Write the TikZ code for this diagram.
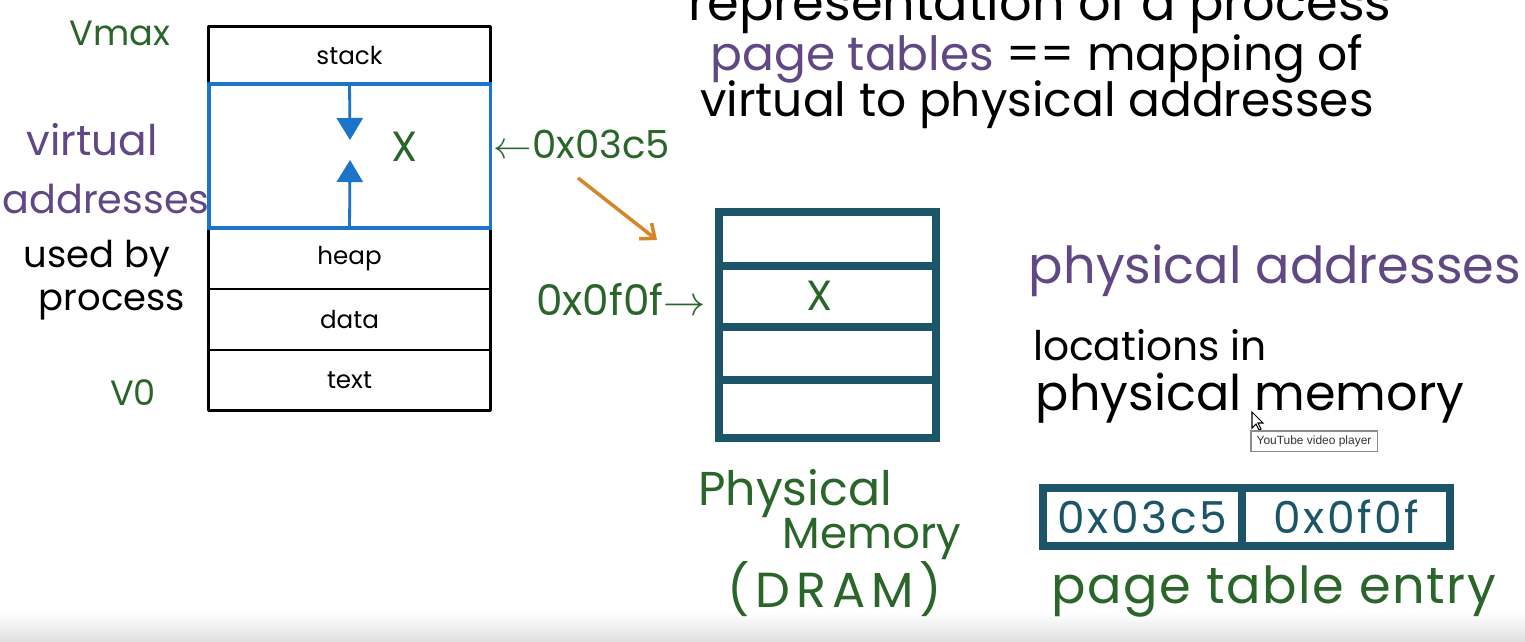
\documentclass[tikz,border=0pt]{standalone}
\usepackage{fontspec}
\setmainfont{Poppins}
\newfontfamily\tipfont{Liberation Sans}
\usetikzlibrary{arrows.meta, positioning, calc}
\definecolor{inkgreen}{RGB}{42,102,42}
\definecolor{inkpurple}{RGB}{96,72,132}
\definecolor{inkorange}{RGB}{214,134,40}
\definecolor{frameteal}{RGB}{28,84,104}
\definecolor{regionblue}{RGB}{28,116,200}
\newcommand{\handsize}[1]{\fontsize{#1}{#1}\selectfont}
\tikzset{
  hand/.style={font=\handsize{13}, inner sep=0pt, anchor=base},
  segment/.style={rectangle, draw=black, line width=0.4pt, minimum width=2.81cm, inner sep=0pt, font=\fontsize{7}{8}\selectfont},
  frame/.style={rectangle, draw=frameteal, line width=2.3pt, inner sep=0pt},
  frameline/.style={draw=frameteal, line width=2.3pt, line cap=butt},
  ptecell/.style={rectangle, draw=frameteal, line width=1.2pt, minimum height=0.55cm, inner sep=0pt, text=frameteal, font=\handsize{12.5}\addfontfeature{LetterSpace=6}},
  growarrow/.style={draw=regionblue, line width=0.8pt, -{Triangle[width=0.26cm, length=0.22cm]}},
  maparrow/.style={draw=inkorange, line width=1pt, -{Straight Barb[width=0.2cm, length=0.12cm]}},
  tooltip/.style={rectangle, draw=black!45, fill=white, line width=0.3pt, minimum width=1.26cm, minimum height=0.2cm, inner sep=0pt, font=\tipfont\fontsize{3.4}{4}\selectfont, text=black!80},
}
\begin{document}
\begin{tikzpicture}[x=0.01cm, y=-0.01cm]
\clip (0,0) rectangle (1525,641);
\fill[white] (0,0) rectangle (1525,641);
\shade[top color=white, bottom color=black!12] (0,612) rectangle (1525,641);

\node[hand, font=\handsize{14.5}] (rep) at (1040,20) {representation of a process};
\node[hand, font=\handsize{13.4}] (ptdef) at (1037,70) {\textcolor{inkpurple}{page tables} == mapping of};
\node[hand, font=\handsize{13.4}] (ptdef2) at (1037,116) {virtual to physical addresses};

\node[segment, minimum height=0.57cm] (stack) at (349.5,55.5) {stack};
\node[segment, minimum height=0.61cm] (heap) at (349.5,258.5) {heap};
\node[segment, minimum height=0.61cm] (data) at (349.5,319.5) {data};
\node[segment, minimum height=0.60cm] (text) at (349.5,380) {text};
\draw[line width=0.9pt, line join=round] (stack.north west) rectangle (text.south east);
\node[segment, draw=regionblue, line width=0.9pt, fill=white, minimum height=1.44cm] (gap) at (349.5,156) {};
\coordinate (stacktip) at (350,140);
\coordinate (heaptip) at (350,160);
\draw[growarrow] (gap.north) -- (stacktip);
\draw[growarrow] (gap.south) -- (heaptip);
\node[font=\handsize{12}, text=inkgreen, inner sep=0pt] (vx) at (405,147) {X};

\node[hand, text=inkgreen, font=\handsize{10}] (vmax) at (120,45) {Vmax};
\node[hand, text=inkpurple, font=\handsize{12}] (virt) at (92,155) {virtual};
\node[hand, text=inkpurple, font=\handsize{11.3}] (addr) at (106,213) {addresses};
\node[hand, font=\handsize{10.5}] (used) at (97,267) {used by};
\node[hand, font=\handsize{10.5}] (proc) at (112,310) {process};
\node[hand, text=inkgreen, font=\handsize{10}] (vzero) at (133,405) {V0};

\node[hand, text=inkgreen, font=\handsize{11}] (vaddr) at (582,158) {$\leftarrow$0x03c5};
\coordinate (mapstart) at (578,178);
\coordinate (mapend) at (657,240);
\draw[maparrow] (mapstart) -- (mapend);

\node[frame, minimum width=2.17cm, minimum height=2.26cm] (dram) at (827.5,325) {};
\draw[frameline] (dram.west |- 0,266) -- (dram.east |- 0,266);
\draw[frameline] (dram.west |- 0,327) -- (dram.east |- 0,327);
\draw[frameline] (dram.west |- 0,380) -- (dram.east |- 0,380);
\node[font=\handsize{12}, text=inkgreen, inner sep=0pt] (px) at (820,296) {X};
\node[hand, text=inkgreen, font=\handsize{12}] (paddr) at (621,315) {0x0f0f$\rightarrow$};

\node[hand, text=inkgreen, font=\handsize{13.5}] (phys) at (795,505) {Physical};
\node[hand, text=inkgreen, font=\handsize{12.4}] (mem) at (872,548) {Memory};
\node[hand, text=inkgreen, font=\handsize{14}\addfontfeature{LetterSpace=12}] (dramlbl) at (835,607) {(DRAM)};

\node[hand, text=inkpurple, font=\handsize{14.5}] (padef) at (1275,283) {physical addresses};
\node[hand, font=\handsize{11.6}] (loc) at (1150,360) {locations in};
\node[hand, font=\handsize{14}] (locmem) at (1250,410) {physical memory};

\draw[fill=white, line width=0.3pt] (1252,412) -- (1252,428) -- (1256,424) -- (1259,430) -- (1261,429) -- (1258,423) -- (1263,423) -- cycle;
\node[tooltip] (tip) at (1314,441) {YouTube video player};

\node[ptecell, minimum width=1.955cm] (ptev) at (1142.25,517) {0x03c5};
\node[ptecell, minimum width=2.035cm, right=0pt of ptev] (ptep) {0x0f0f};
\draw[frameteal, line width=2pt] (ptev.north west) rectangle (ptep.south east);
\node[hand, text=inkgreen, font=\handsize{14.5}\addfontfeature{LetterSpace=3}] (ptelbl) at (1274,603) {page table entry};
\end{tikzpicture}
\end{document}
